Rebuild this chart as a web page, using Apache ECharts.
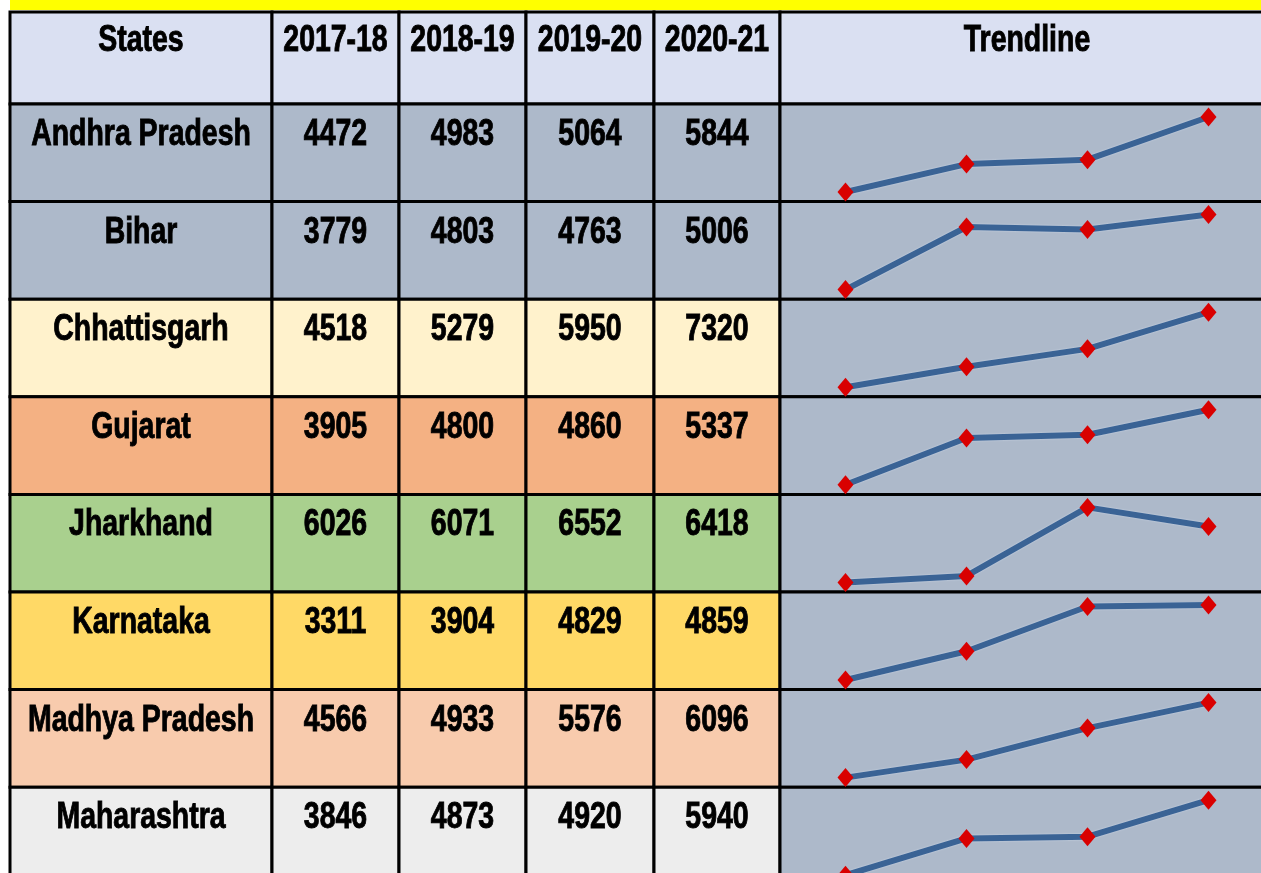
<!DOCTYPE html>
<html><head><meta charset="utf-8">
<script src="https://cdn.jsdelivr.net/npm/echarts@6/dist/echarts.min.js"></script>
<style>html,body{margin:0;padding:0;background:#fff}#c{width:1261px;height:873px}</style>
</head><body><div id="c"></div>
<script>
// ---- data ----
const states = ['Andhra Pradesh','Bihar','Chhattisgarh','Gujarat','Jharkhand','Karnataka','Madhya Pradesh','Maharashtra'];
const years = ['2017-18','2018-19','2019-20','2020-21'];
const v2017 = [4472,3779,4518,3905,6026,3311,4566,3846];
const v2018 = [4983,4803,5279,4800,6071,3904,4933,4873];
const v2019 = [5064,4763,5950,4860,6552,4829,5576,4920];
const v2020 = [5844,5006,7320,5337,6418,4859,6096,5940];
const headerTitles = ['States','2017-18','2018-19','2019-20','2020-21','Trendline'];

// ---- styles ----
const rowFills = ['#ADB9CA','#ADB9CA','#FFF2CC','#F4B183','#A9D08E','#FFD966','#F8CBAD','#EDEDED'];
const headerFill = '#DAE0F2';
const trendFill = '#ADB9CA';
const FONT = 'bold 36px "Liberation Sans","Arial",sans-serif';
const TEXT_SCALE_X = 0.79;

const valueCols = [v2017, v2018, v2019, v2020];
const colLeft = [10, 272, 399, 526, 654, 780];
const colWidth = [262, 127, 127, 128, 126, 494];
const headTop = 12, headH = 92, bodyTop = 104, rowH = 97.6;

const grids = [], xAxes = [], yAxes = [], series = [];

function cellItem(x0, y0, w, h, fill, text, textOffset) {
  const children = [{
    type: 'rect',
    shape: { x: x0, y: y0, width: w, height: h },
    style: { fill: fill, stroke: '#000', lineWidth: 3 }
  }];
  if (text !== null && text !== undefined) {
    children.push({
      type: 'text',
      x: x0 + w / 2, y: y0 + textOffset, scaleX: TEXT_SCALE_X, scaleY: 1,
      style: { text: String(text), x: 0, y: 0, align: 'center', verticalAlign: 'middle', font: FONT, fill: '#000', stroke: '#000', lineWidth: 0.9 }
    });
  }
  return { type: 'group', children: children };
}

headerTitles.forEach(function (title, c) {
  // header grid
  let gi = grids.length;
  grids.push({ left: colLeft[c], width: colWidth[c], top: headTop, height: headH, containLabel: false, outerBoundsMode: 'none' });
  xAxes.push({ type: 'category', gridIndex: gi, data: [title], show: false });
  yAxes.push({ type: 'category', gridIndex: gi, data: ['header'], show: false });
  series.push({
    type: 'custom', xAxisIndex: gi, yAxisIndex: gi, z: 2, silent: true,
    data: [[0, 0]],
    renderItem: function (params, api) {
      const p = api.coord([api.value(0), api.value(1)]);
      const s = api.size([1, 1]);
      return cellItem(p[0] - s[0] / 2, p[1] - s[1] / 2, s[0], s[1], headerFill, title, 29);
    }
  });
  // body grid
  gi = grids.length;
  grids.push({ left: colLeft[c], width: colWidth[c], top: bodyTop, height: rowH * states.length, containLabel: false, outerBoundsMode: 'none' });
  xAxes.push({ type: 'category', gridIndex: gi, data: [title], show: false });
  yAxes.push({ type: 'category', gridIndex: gi, data: states, inverse: true, show: false });
  series.push({
    type: 'custom', xAxisIndex: gi, yAxisIndex: gi, z: 2, silent: true,
    data: states.map(function (s, i) { return [0, i]; }),
    renderItem: function (params, api) {
      const i = params.dataIndex;
      const p = api.coord([api.value(0), api.value(1)]);
      const s = api.size([1, 1]);
      let text = null, fill = rowFills[i];
      if (c === 0) text = states[i];
      else if (c <= 4) text = valueCols[c - 1][i];
      else fill = trendFill;
      return cellItem(p[0] - s[0] / 2, p[1] - s[1] / 2, s[0], s[1], fill, text, 31);
    }
  });
});

// sparklines
states.forEach(function (st, i) {
  const gi = grids.length;
  grids.push({ left: 785, width: 484, top: bodyTop + i * rowH + 13, height: 75, containLabel: false, outerBoundsMode: 'none' });
  xAxes.push({ type: 'category', gridIndex: gi, data: years, boundaryGap: true, show: false });
  yAxes.push({ type: 'value', gridIndex: gi, min: 'dataMin', max: 'dataMax', scale: true, show: false, splitLine: { show: false } });
  series.push({
    type: 'line', xAxisIndex: gi, yAxisIndex: gi, z: 10,
    data: [v2017[i], v2018[i], v2019[i], v2020[i]],
    symbol: 'diamond', symbolSize: [16, 19], showSymbol: true,
    itemStyle: { color: '#D90000' },
    lineStyle: { color: '#3A6395', width: 6, shadowColor: 'rgba(230,240,255,0.6)', shadowBlur: 2 },
    silent: true
  });
});

const chart = echarts.init(document.getElementById('c'), null, { renderer: 'canvas' });
chart.setOption({
  animation: false,
  backgroundColor: '#ffffff',
  grid: grids,
  xAxis: xAxes,
  yAxis: yAxes,
  series: series,
  graphic: [{
    type: 'rect', left: 10, top: 0, z: 100,
    shape: { width: 1251, height: 10 },
    style: { fill: '#FFFF00' }
  }]
});
</script>
</body></html>
